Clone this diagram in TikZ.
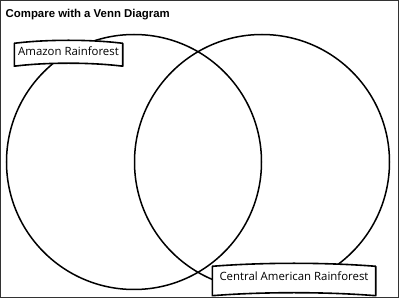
\documentclass[tikz,border=0pt]{standalone}
\usepackage{fontspec}
\setsansfont{Liberation Sans}
\newfontfamily\tagfont{Open Sans}
\definecolor{FrameClr}{rgb}{0.2,0.2,0.2}
\pgfdeclarelayer{circles}
\pgfdeclarelayer{banners}
\pgfsetlayers{circles,banners,main}

% wavy label box round a node
\newcommand{\drawbanner}[2]{%
  \filldraw[banner] (#1.north west) .. controls +(#2,4) and +(-#2,4) .. (#1.north east)
    -- (#1.south east) .. controls +(-#2,4) and +(#2,4) .. (#1.south west) -- cycle;}

\begin{document}
\begin{tikzpicture}[x=1pt,y=1pt,
  venn/.style={circle,draw,line width=1.5pt,minimum size=255pt,inner sep=0pt},
  tag/.style={font=\tagfont\fontsize{11.4}{13}\selectfont,anchor=base,inner sep=0pt},
  banner/.style={draw,fill=white,line width=1.6pt,line join=round},
  heading/.style={font=\sffamily\bfseries\fontsize{11.4}{13}\selectfont,anchor=base west,inner sep=0pt}]

\useasboundingbox (0,0) rectangle (400,300);
\draw[FrameClr,line width=1pt] (0.5,2) rectangle (398,299.5);

\node[heading] (title) at (5.5,282.5) {Compare with a Venn Diagram};

\begin{pgfonlayer}{circles}
\node[venn] (amazon) at (134,138) {};
\node[venn] (central) at (262,138) {};
\end{pgfonlayer}

\node[tag,minimum width=108pt,text height=12.5pt,text depth=10pt] (amazonlabel) at (68.5,244) {Amazon Rainforest};
\node[tag,minimum width=163pt,text height=14.2pt,text depth=14.8pt] (centrallabel) at (294,19.3) {Central American Rainforest};

\begin{pgfonlayer}{banners}
\drawbanner{amazonlabel}{32}
\drawbanner{centrallabel}{50}
\end{pgfonlayer}

\end{tikzpicture}
\end{document}
